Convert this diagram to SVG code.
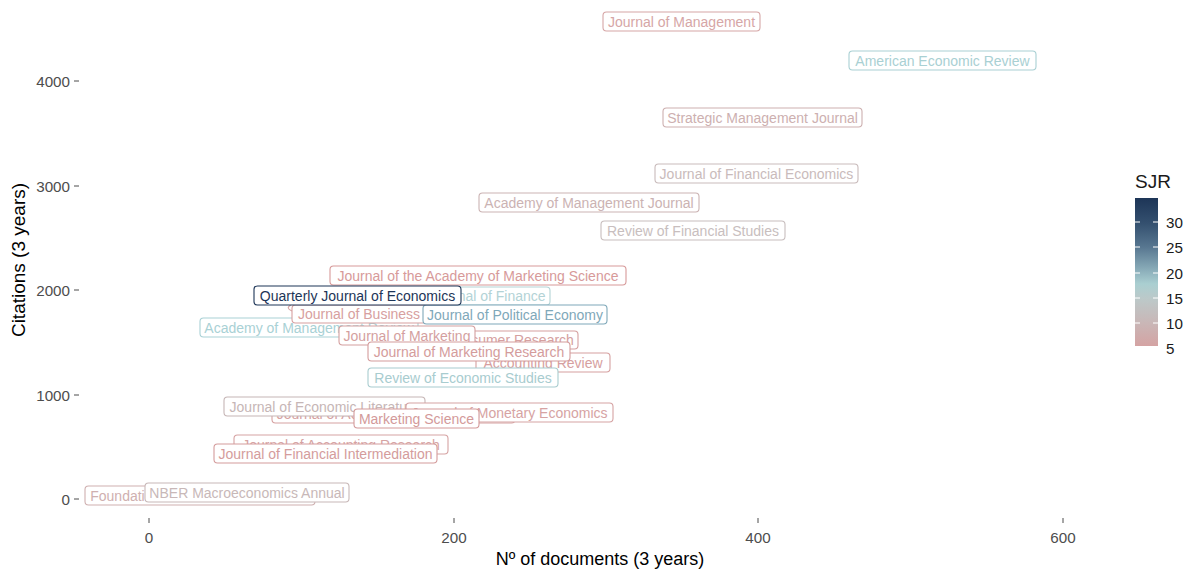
<svg xmlns="http://www.w3.org/2000/svg" width="1194" height="569" viewBox="0 0 1194 569">
<defs>
<linearGradient id="sjr" x1="0" y1="0" x2="0" y2="1">
<stop offset="0" stop-color="#1d3557"/>
<stop offset="0.17" stop-color="#34506f"/>
<stop offset="0.33" stop-color="#577690"/>
<stop offset="0.5" stop-color="#8fb2bd"/>
<stop offset="0.58" stop-color="#aacfd1"/>
<stop offset="0.68" stop-color="#bcc9c9"/>
<stop offset="0.84" stop-color="#c9b7b7"/>
<stop offset="1" stop-color="#d4a3a3"/>
</linearGradient>
<style>
text{font-family:"Liberation Sans",Arial,Helvetica,sans-serif}
.lbl rect{fill:#ffffff;stroke:currentColor;stroke-width:1.1}
.lbl text{fill:currentColor;font-size:14px;text-anchor:middle}
.tick{stroke:#4d4d4d;stroke-width:1}
.ytl{font-size:15.2px;fill:#4d4d4d;text-anchor:end}
.xtl{font-size:15.2px;fill:#4d4d4d;text-anchor:middle}
.ttl{font-size:18px;fill:#000000;text-anchor:middle}
.leg{font-size:15.2px;fill:#1a1a1a}
.lt{stroke:#ffffff;stroke-width:1}
</style>
</defs>
<rect x="0" y="0" width="1194" height="569" fill="#ffffff"/>

<g id="axes">
<line class="tick" x1="74" y1="81" x2="79" y2="81"/>
<line class="tick" x1="74" y1="186" x2="79" y2="186"/>
<line class="tick" x1="74" y1="290" x2="79" y2="290"/>
<line class="tick" x1="74" y1="395" x2="79" y2="395"/>
<line class="tick" x1="74" y1="499" x2="79" y2="499"/>
<text class="ytl" x="70" y="86.5">4000</text>
<text class="ytl" x="70" y="191.5">3000</text>
<text class="ytl" x="70" y="295.5">2000</text>
<text class="ytl" x="70" y="400.5">1000</text>
<text class="ytl" x="70" y="504.5">0</text>
<line class="tick" x1="149" y1="518" x2="149" y2="523"/>
<line class="tick" x1="454" y1="518" x2="454" y2="523"/>
<line class="tick" x1="758" y1="518" x2="758" y2="523"/>
<line class="tick" x1="1063" y1="518" x2="1063" y2="523"/>
<text class="xtl" x="149" y="543">0</text>
<text class="xtl" x="454" y="543">200</text>
<text class="xtl" x="758" y="543">400</text>
<text class="xtl" x="1063" y="543">600</text>
<text class="ttl" x="600" y="565">Nº of documents (3 years)</text>
<text class="ttl" transform="translate(25,260) rotate(-90)" x="0" y="0" style="font-size:19px">Citations (3 years)</text>
</g>

<g id="connectors">
<path d="M 291 305 Q 285 308 292 311" fill="none" stroke="#d6a3a3" stroke-width="1.1"/>
</g>

<g id="n-jmgmt" class="lbl" style="color:#d6a6a6"><rect x="603" y="12" width="157" height="19" rx="3.5"/><text x="681.5" y="26.5">Journal of Management</text></g>
<g id="n-aer" class="lbl" style="color:#a9d0d3"><rect x="849" y="51" width="187" height="19" rx="3.5"/><text x="942.5" y="65.5">American Economic Review</text></g>
<g id="n-smj" class="lbl" style="color:#cdb0b0"><rect x="663" y="108" width="199" height="19" rx="3.5"/><text x="762.5" y="122.5">Strategic Management Journal</text></g>
<g id="n-jfe" class="lbl" style="color:#c9bbbb"><rect x="655" y="164" width="203" height="19" rx="3.5"/><text x="756.5" y="178.5">Journal of Financial Economics</text></g>
<g id="n-amj" class="lbl" style="color:#cbb3b3"><rect x="479" y="193" width="220" height="19" rx="3.5"/><text x="589" y="207.5">Academy of Management Journal</text></g>
<g id="n-rfs" class="lbl" style="color:#c8bebe"><rect x="601" y="221" width="184" height="19" rx="3.5"/><text x="693" y="235.5">Review of Financial Studies</text></g>

<g id="n-amr" class="lbl" style="color:#a9d1d5"><rect x="200" y="318" width="218" height="19" rx="3.5"/><text x="309" y="332.5">Academy of Management Review</text></g>
<g id="n-jf" class="lbl" style="color:#b3d3d6"><rect x="426" y="287" width="124" height="18" rx="3.5"/><text x="488" y="301">Journal of Finance</text></g>
<g id="n-jams" class="lbl" style="color:#d79a9a"><rect x="330" y="266" width="296" height="19" rx="3.5"/><text x="478" y="280.5">Journal of the Academy of Marketing Science</text></g>
<g id="n-jb" class="lbl" style="color:#d7a0a0"><rect x="292" y="305" width="134" height="18" rx="3.5"/><text x="359" y="319">Journal of Business</text></g>
<g id="n-jpe" class="lbl" style="color:#7fa8b9"><rect x="423" y="305" width="184" height="19" rx="3.5"/><text x="515" y="319.5">Journal of Political Economy</text></g>
<g id="n-jcr" class="lbl" style="color:#d5a0a0"><rect x="376" y="331" width="202" height="18" rx="3.5"/><text x="477" y="345">Journal of Consumer Research</text></g>
<g id="n-ar" class="lbl" style="color:#d6a0a0"><rect x="476" y="353" width="134" height="19" rx="3.5"/><text x="543" y="367.5">Accounting Review</text></g>
<g id="n-jm" class="lbl" style="color:#d49f9f"><rect x="339" y="326" width="136" height="19" rx="3.5"/><text x="407" y="340.5">Journal of Marketing</text></g>
<g id="n-jmr" class="lbl" style="color:#d49c9c"><rect x="368" y="342" width="202" height="19" rx="3.5"/><text x="469" y="356.5">Journal of Marketing Research</text></g>
<g id="n-res" class="lbl" style="color:#a8cccf"><rect x="368" y="368" width="190" height="19" rx="3.5"/><text x="463" y="382.5">Review of Economic Studies</text></g>
<g id="n-qje" class="lbl" style="color:#1d3557"><rect x="254" y="286" width="207" height="19" rx="3.5"/><text x="357.5" y="300.5">Quarterly Journal of Economics</text></g>

<g id="n-jae" class="lbl" style="color:#d6a1a1"><rect x="272" y="404" width="243" height="19" rx="3.5"/><text x="393.5" y="418.5">Journal of Accounting and Economics</text></g>
<g id="n-jel" class="lbl" style="color:#c6b6b6"><rect x="224" y="397" width="201" height="19" rx="3.5"/><text x="324.5" y="411.5">Journal of Economic Literature</text></g>
<g id="n-jme" class="lbl" style="color:#d6a3a3"><rect x="406" y="403" width="207" height="19" rx="3.5"/><text x="509.5" y="417.5">Journal of Monetary Economics</text></g>
<g id="n-ms" class="lbl" style="color:#d39a9a"><rect x="354" y="409" width="125" height="19" rx="3.5"/><text x="416.5" y="423.5">Marketing Science</text></g>
<g id="n-jar" class="lbl" style="color:#d6a3a3"><rect x="234" y="435" width="214" height="19" rx="3.5"/><text x="341" y="449.5">Journal of Accounting Research</text></g>
<g id="n-jfi" class="lbl" style="color:#d49c9c"><rect x="214" y="444" width="223" height="19" rx="3.5"/><text x="325.5" y="458.5">Journal of Financial Intermediation</text></g>
<g id="n-ftf" class="lbl" style="color:#cfb0b0"><rect x="85" y="486" width="230" height="19" rx="3.5"/><text x="200" y="500.5">Foundations and Trends in Finance</text></g>
<g id="n-nber" class="lbl" style="color:#c8b8b8"><rect x="145" y="483" width="204" height="19" rx="3.5"/><text x="247" y="497.5">NBER Macroeconomics Annual</text></g>

<g id="legend">
<text x="1135" y="188" style="font-size:19px;fill:#1a1a1a">SJR</text>
<rect x="1135" y="198" width="23" height="148" fill="url(#sjr)"/>
<line class="lt" x1="1135" y1="222" x2="1140" y2="222"/><line class="lt" x1="1153" y1="222" x2="1158" y2="222"/>
<line class="lt" x1="1135" y1="247" x2="1140" y2="247"/><line class="lt" x1="1153" y1="247" x2="1158" y2="247"/>
<line class="lt" x1="1135" y1="273" x2="1140" y2="273"/><line class="lt" x1="1153" y1="273" x2="1158" y2="273"/>
<line class="lt" x1="1135" y1="298" x2="1140" y2="298"/><line class="lt" x1="1153" y1="298" x2="1158" y2="298"/>
<line class="lt" x1="1135" y1="323" x2="1140" y2="323"/><line class="lt" x1="1153" y1="323" x2="1158" y2="323"/>
<text class="leg" x="1166" y="227.5">30</text>
<text class="leg" x="1166" y="252.5">25</text>
<text class="leg" x="1166" y="278.5">20</text>
<text class="leg" x="1166" y="303.5">15</text>
<text class="leg" x="1166" y="328.5">10</text>
<text class="leg" x="1166" y="353.5">5</text>
</g>
</svg>
